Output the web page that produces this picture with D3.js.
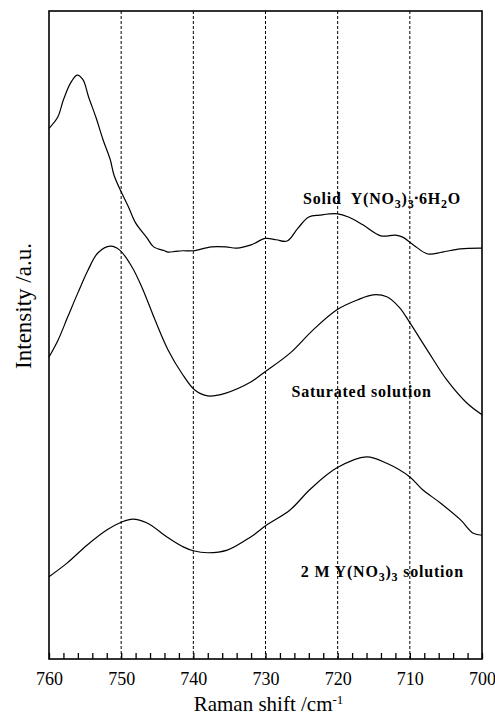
<!DOCTYPE html>
<html>
<head>
<meta charset="utf-8">
<script src="https://cdn.jsdelivr.net/npm/d3@7"></script>
<style>
    body { margin: 0; background: #fff; }
    svg { display: block; font-family: "Liberation Serif", "Times New Roman", serif; }
    .grid { stroke: #000; stroke-width: 1; stroke-dasharray: 3,2; }
    .frame { fill: none; stroke: #000; stroke-width: 1.6; }
    .spectrum { fill: none; stroke: #000; stroke-width: 1.2; }
    .tag { font-weight: bold; font-size: 16px; letter-spacing: 0.8px; white-space: pre; }
</style>
</head>
<body>
<svg id="chart" width="495" height="718"></svg>
<script>
// wavenumbers (cm-1) and intensities (a.u.)
const solidShift = [760, 758.8, 758, 757, 756.1, 755.3, 754.5, 753.5, 752.5, 751.5, 751, 750, 749, 748, 746.5, 745.5, 744, 743.5, 742.5, 741.5, 740, 737.5, 735.5, 734, 732, 730, 728.5, 727, 725.5, 724, 722.5, 720, 718.5, 716.5, 714, 712, 711, 709.5, 707.5, 705.5, 703, 700];
const solidInt = [81.9, 83.6, 86.3, 88.9, 90.1, 89.4, 86.7, 83.6, 80.1, 77.0, 74.7, 72.1, 69.8, 67.3, 65.1, 63.6, 63.0, 62.8, 62.9, 63.0, 63.0, 63.6, 63.6, 63.4, 63.9, 64.9, 64.7, 64.5, 66.5, 68.2, 68.5, 68.7, 68.2, 67.0, 65.3, 65.4, 65.1, 63.9, 62.5, 62.8, 63.3, 63.4];

const satShift = [760, 758.75, 757.4, 756, 754.6, 753.2, 751.5, 750.2, 748.5, 747.1, 745.3, 743.5, 741.6, 739.8, 738, 735.6, 732.1, 730.1, 726.6, 723.4, 720.1, 717.3, 715.1, 713.2, 711.4, 710, 707.6, 704.9, 702.1, 700];
const satInt = [46.6, 49.2, 52.8, 56.5, 60.0, 62.7, 63.7, 63.1, 60.5, 57.3, 52.3, 47.7, 44.1, 41.5, 40.6, 41.0, 42.7, 44.3, 47.2, 50.8, 53.9, 55.4, 56.2, 55.9, 54.2, 51.9, 47.7, 43.1, 39.5, 37.7];

const twoMShift = [760, 757.5, 754.7, 752, 750, 748.4, 746.4, 743.6, 741.4, 740, 738, 735.3, 732.1, 729.8, 726.6, 723.8, 720.1, 716, 713.2, 710, 708.3, 705.8, 703, 701.2, 700];
const twoMInt = [12.7, 14.8, 17.6, 19.9, 21.1, 21.6, 21.0, 18.8, 17.3, 16.7, 16.4, 16.8, 18.8, 20.7, 23.0, 26.2, 29.5, 31.2, 30.2, 28.1, 26.2, 24.1, 21.5, 19.4, 19.1];

const xTicks = [760, 750, 740, 730, 720, 710, 700];
const gridLines = [750, 740, 730, 720, 710];

const margin = { top: 11, right: 13, bottom: 59, left: 49 };
const svg = d3.select("#chart"),
    width = +svg.attr("width") - margin.left - margin.right,
    height = +svg.attr("height") - margin.top - margin.bottom;

const g = svg.append("g")
    .attr("transform", `translate(${margin.left},${margin.top})`);

const x = d3.scaleLinear().domain([760, 700]).range([0, width]);
const y = d3.scaleLinear().domain([0, 100]).range([height, 0]);

// dashed verticals
g.selectAll(".grid")
    .data(gridLines)
    .enter().append("line")
    .attr("class", "grid")
    .attr("x1", d => x(d))
    .attr("x2", d => x(d))
    .attr("y1", 0)
    .attr("y2", height);

// bottom axis, ticks pointing in
const xAxis = d3.axisBottom(x)
    .tickValues(d3.range(700, 761, 2))
    .tickSizeInner(-6)
    .tickSizeOuter(0)
    .tickFormat(d => xTicks.includes(d) ? d : "");

const axisG = g.append("g")
    .attr("transform", `translate(0,${height})`)
    .call(xAxis);
axisG.select(".domain").remove();
axisG.selectAll("line").attr("stroke-width", 1.3);
axisG.selectAll("text")
    .attr("y", 13)
    .attr("dy", "0.71em")
    .style("font-family", "Liberation Serif")
    .style("font-size", "18px")
    .attr("fill", "#000");

g.append("rect")
    .attr("class", "frame")
    .attr("width", width)
    .attr("height", height);

const line = d3.line()
    .x(d => x(d[0]))
    .y(d => y(d[1]))
    .curve(d3.curveCatmullRom);

[[solidShift, solidInt], [satShift, satInt], [twoMShift, twoMInt]].forEach(s => {
    g.append("path")
        .datum(d3.zip(s[0], s[1]))
        .attr("class", "spectrum")
        .attr("d", line);
});

// labels next to each spectrum
function sub(t, txt) {
    t.append("tspan").attr("baseline-shift", "-30%").style("font-size", "12px").text(txt);
}

let t1 = g.append("text").attr("class", "tag")
    .attr("x", x(724.8)).attr("y", y(70.2));
t1.append("tspan").text("Solid  Y(NO");
sub(t1, "3");
t1.append("tspan").text(")");
sub(t1, "3");
t1.append("tspan").attr("baseline-shift", "30%").style("font-size", "10px").text("\u25AA");
t1.append("tspan").text("6H");
sub(t1, "2");
t1.append("tspan").text("O");

g.append("text").attr("class", "tag")
    .attr("x", x(726.4)).attr("y", y(40.5))
    .text("Saturated solution");

let t3 = g.append("text").attr("class", "tag")
    .attr("x", x(725.1)).attr("y", y(12.7));
t3.append("tspan").text("2 M Y(NO");
sub(t3, "3");
t3.append("tspan").text(")");
sub(t3, "3");
t3.append("tspan").text(" solution");

// axis titles
const xTitle = svg.append("text")
    .attr("x", margin.left + width / 2 + 3)
    .attr("y", 711)
    .attr("text-anchor", "middle")
    .style("font-size", "21px");
xTitle.append("tspan").text("Raman shift /cm");
xTitle.append("tspan").attr("baseline-shift", "super").style("font-size", "13px").text("-1");

svg.append("text")
    .attr("transform", "translate(31,306) rotate(-90)")
    .attr("text-anchor", "middle")
    .style("font-size", "23px")
    .text("Intensity /a.u.");
</script>
</body>
</html>
